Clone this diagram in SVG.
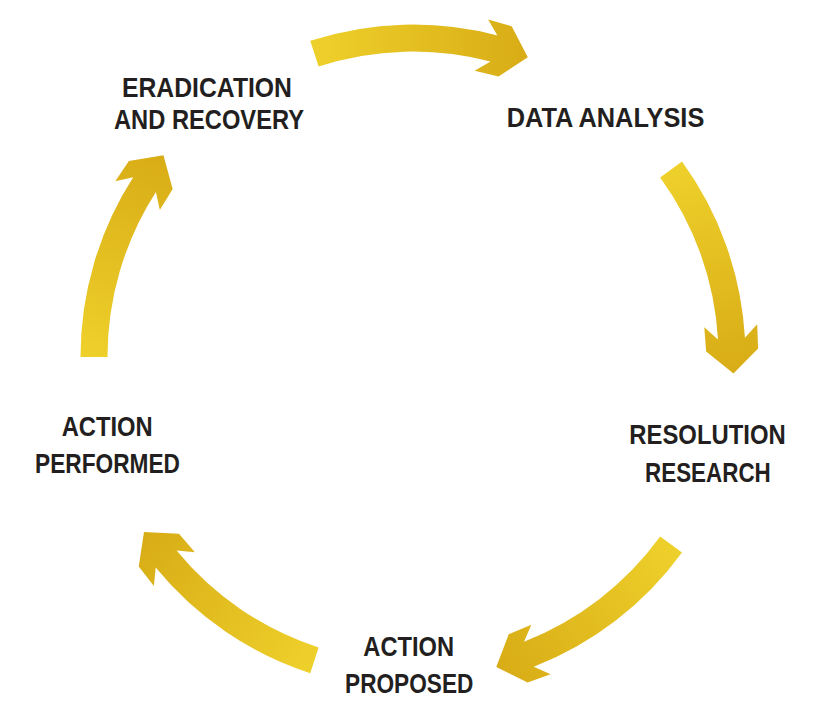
<svg xmlns="http://www.w3.org/2000/svg" xmlns:xlink="http://www.w3.org/1999/xlink" width="816" height="721" viewBox="0 0 816 721">
  <style>
    .lbl { font-family: "Liberation Sans", "Noto Sans", Arial, sans-serif; font-weight: bold; font-size: 28.5px; fill: #231F20; text-anchor: middle; }
  </style>
  <defs>
    <linearGradient id="arrowGrad" gradientUnits="userSpaceOnUse" x1="314" y1="54" x2="528" y2="57">
      <stop offset="0" stop-color="#EED02B"/>
      <stop offset="1" stop-color="#D8AC16"/>
    </linearGradient>
    <path id="arrowShape" fill="url(#arrowGrad)" d="M310.25,40.77 A332.5,332.5 0 0 1 497.38,35.38 L488.10,19.51 L511.67,26.21 L527.80,57.32 L498.47,76.51 L474.66,70.77 L490.52,61.50 A305.5,305.5 0 0 0 318.60,66.45 Z"/>
  </defs>
  <rect width="816" height="721" fill="#FFFFFF"/>
  <g id="connectors">
    <use id="arrow-eradication-to-data" xlink:href="#arrowShape" href="#arrowShape"/>
    <use id="arrow-data-to-resolution" xlink:href="#arrowShape" href="#arrowShape" transform="rotate(72 413 357)"/>
    <use id="arrow-resolution-to-proposed" xlink:href="#arrowShape" href="#arrowShape" transform="rotate(144 413 357)"/>
    <use id="arrow-proposed-to-performed" xlink:href="#arrowShape" href="#arrowShape" transform="rotate(216 413 357)"/>
    <use id="arrow-performed-to-eradication" xlink:href="#arrowShape" href="#arrowShape" transform="rotate(288 413 357)"/>
  </g>
  <g id="node-eradication">
    <text class="lbl" x="207" y="96.7" textLength="170" lengthAdjust="spacingAndGlyphs">ERADICATION</text>
    <text class="lbl" x="209" y="129" textLength="190" lengthAdjust="spacingAndGlyphs">AND RECOVERY</text>
  </g>
  <g id="node-data-analysis">
    <text class="lbl" x="605.5" y="127.3" textLength="197.6" lengthAdjust="spacingAndGlyphs">DATA ANALYSIS</text>
  </g>
  <g id="node-resolution">
    <text class="lbl" x="707.5" y="444.3" textLength="156.4" lengthAdjust="spacingAndGlyphs">RESOLUTION</text>
    <text class="lbl" x="707.9" y="481.7" textLength="125.7" lengthAdjust="spacingAndGlyphs">RESEARCH</text>
  </g>
  <g id="node-proposed">
    <text class="lbl" x="408.7" y="655.7" textLength="90.7" lengthAdjust="spacingAndGlyphs">ACTION</text>
    <text class="lbl" x="409.2" y="692.7" textLength="128.3" lengthAdjust="spacingAndGlyphs">PROPOSED</text>
  </g>
  <g id="node-performed">
    <text class="lbl" x="107.2" y="436" textLength="91" lengthAdjust="spacingAndGlyphs">ACTION</text>
    <text class="lbl" x="107.5" y="473.3" textLength="145" lengthAdjust="spacingAndGlyphs">PERFORMED</text>
  </g>
</svg>
